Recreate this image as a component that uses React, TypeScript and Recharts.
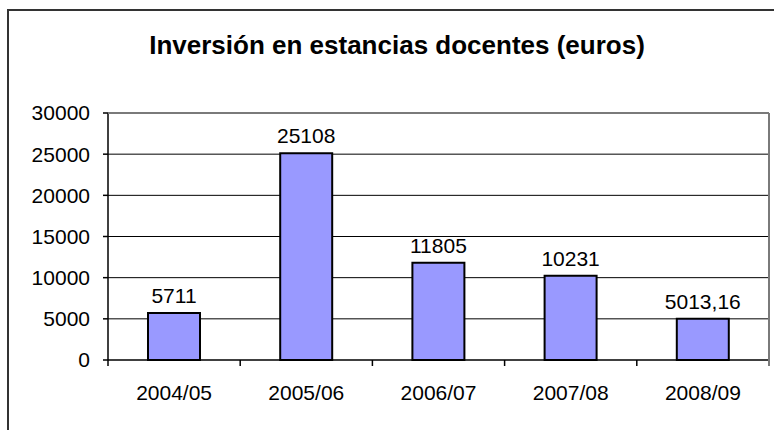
import React from 'react';
import { BarChart, Bar, XAxis, YAxis, CartesianGrid, LabelList } from 'recharts';

const categories = ['2004/05', '2005/06', '2006/07', '2007/08', '2008/09'];
const values = [5711, 25108, 11805, 10231, 5013.16];
const yTicks = [0, 5000, 10000, 15000, 20000, 25000, 30000];
const gridValues = [5000, 10000, 15000, 20000, 25000];

const data = categories.map((c, i) => ({ name: c, value: values[i] }));

const FONT = '"Liberation Sans", Arial, sans-serif';

const CHART_W = 774;
const CHART_H = 430;
const MARGIN = { top: 113, right: 5, left: 0, bottom: 30 };
const Y_AXIS_W = 108;
const X_AXIS_H = 40;

const CatTick = (props: any) => {
  const { x, y, payload, index, visibleTicksCount } = props;
  const off = payload && typeof payload.offset === 'number' ? payload.offset : 0;
  const last = index === (visibleTicksCount ?? categories.length) - 1;
  return (
    <g>
      <line x1={x - off} x2={x - off} y1={y} y2={y + 6} stroke="#000" strokeWidth={1.5} />
      {last ? <line x1={x + off} x2={x + off} y1={y} y2={y + 6} stroke="#000" strokeWidth={1.5} /> : null}
      <text x={x} y={y + 25} dy="0.71em" textAnchor="middle" fill="#000" fontSize={21} fontFamily={FONT}>
        {payload.value}
      </text>
    </g>
  );
};

export default function App() {
  const plotLeft = MARGIN.left + Y_AXIS_W;
  const plotTop = MARGIN.top;
  const plotRight = CHART_W - MARGIN.right;
  const plotBottom = CHART_H - MARGIN.bottom - X_AXIS_H;
  return (
    <div style={{ position: 'absolute', left: 0, top: 0, width: CHART_W, height: CHART_H, background: '#fff', overflow: 'hidden', fontFamily: FONT }}>
      <div style={{ position: 'absolute', left: 7, top: 9, width: 800, height: 500, border: '2px solid #333', boxSizing: 'border-box' }} />
      <div style={{ position: 'absolute', left: 0, top: 30, width: 794, textAlign: 'center', fontSize: 26, fontWeight: 'bold', color: '#000' }}>
        Inversión en estancias docentes (euros)
      </div>
      <div style={{ position: 'absolute', left: 0, top: 0, zIndex: 1 }}>
        <BarChart width={CHART_W} height={CHART_H} data={data} margin={MARGIN}>
          <CartesianGrid horizontal vertical={false} stroke="#000" strokeWidth={1} horizontalValues={gridValues} />
          <XAxis dataKey="name" height={X_AXIS_H} tickLine={false} tickSize={0} tickMargin={0} axisLine={{ stroke: '#000', strokeWidth: 1.5 }} tick={<CatTick />} interval={0} />
          <YAxis width={Y_AXIS_W} domain={[0, 30000]} ticks={yTicks} interval={0} axisLine={{ stroke: '#000', strokeWidth: 1.5 }} tickLine={{ stroke: '#000', strokeWidth: 1.5 }} tickSize={5} tickMargin={13} tick={{ fill: '#000', fontSize: 21, fontFamily: FONT }} />
          <Bar dataKey="value" fill="#9999FF" stroke="#000" strokeWidth={2} barSize={52} isAnimationActive={false}>
            <LabelList dataKey="value" position="top" offset={10} fill="#000" fontSize={21} fontFamily={FONT} formatter={(v: any) => String(v).replace('.', ',')} />
          </Bar>
        </BarChart>
      </div>
      <svg
        width={CHART_W}
        height={CHART_H}
        style={{ position: 'absolute', left: 0, top: 0, zIndex: 5, pointerEvents: 'none' }}
      >
        <line x1={plotLeft} x2={plotRight} y1={plotTop} y2={plotTop} stroke="#7a7a7a" strokeWidth={2} />
        <line x1={plotRight} x2={plotRight} y1={plotTop} y2={plotBottom + 6} stroke="#7a7a7a" strokeWidth={2} />
      </svg>
    </div>
  );
}
